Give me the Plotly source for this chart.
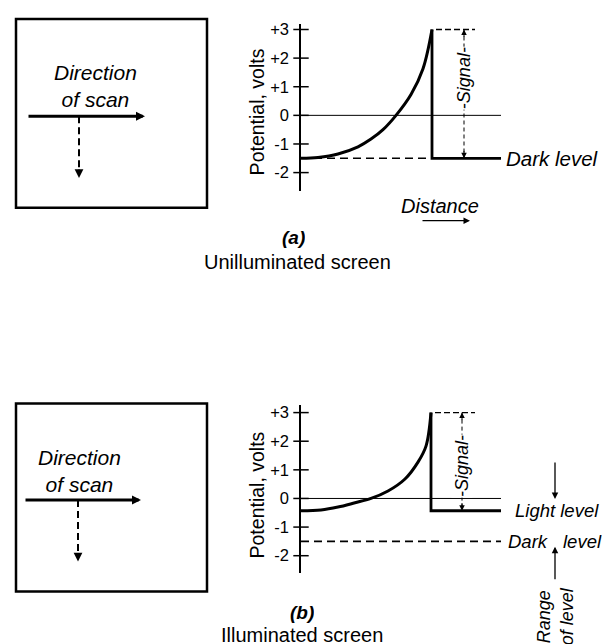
import plotly.graph_objects as go

W, H = 610, 644

# ---------------- data ----------------
tick_vals = [3, 2, 1, 0, -1, -2]
tick_text = ["+3", "+2", "+1", "0", "-1", "-2"]

# (a) unilluminated screen: potential vs distance along scan
dist_a = [0, 8.5, 18.5, 28.5, 35, 41, 47.5, 55, 61, 65.5]
pot_a = [-1.5, -1.47, -1.35, -1.1, -0.83, -0.5, 0.0, 0.73, 1.63, 3.0]

# (b) illuminated screen
dist_b = [0, 10, 18.5, 27, 35, 43.5, 52, 58.5, 62.5, 65]
pot_b = [-0.43, -0.40, -0.30, -0.15, 0.0, 0.26, 0.68, 1.27, 1.83, 3.0]

peak_v = 3.0
dark_level = -1.5
light_level = -0.43
scan_end = 100

# ---------------- layout helpers ----------------
FONT = "Liberation Sans, Arial, sans-serif"
AX_X = 293          # pixel x of potential axis
PX_PER_UNIT = 2.0   # pixels per distance unit
PX_PER_V = 28.8     # pixels per volt


def xd(p):
    return p / W


def yd(p):
    return 1 - p / H


def label(x, y, text, size=19, xref="paper", yref="paper", xanchor="center",
          yanchor="middle", angle=0, **kw):
    if xref == "paper":
        x = xd(x)
    if yref == "paper":
        y = yd(y)
    return dict(x=x, y=y, xref=xref, yref=yref, text=text, showarrow=False,
                xanchor=xanchor, yanchor=yanchor, textangle=angle, borderpad=0,
                font=dict(family=FONT, size=size, color="black"), **kw)


def arrow(tip, tail, width=1.3, size=1.0, head=2):
    """Annotation arrow in pixel coordinates (tip and tail as (x, y) pixels)."""
    return dict(x=xd(tip[0]), y=yd(tip[1]), xref="paper", yref="paper",
                ax=tail[0] - tip[0], ay=tail[1] - tip[1], text="", showarrow=True,
                arrowhead=head, arrowsize=size, arrowwidth=width, arrowcolor="black")


panels = [
    dict(zero=104, top=12, bot=180, xa="x", ya="y", dist=dist_a, pot=pot_a,
         level=dark_level, dash_end=dist_a[-1], sig_x=81.5, sig_mid=1.3),
    dict(zero=489.5, top=395, bot=565, xa="x2", ya="y2", dist=dist_b, pot=pot_b,
         level=light_level, dash_end=scan_end, sig_x=80.5, sig_mid=1.13),
]

fig = go.Figure()
annotations = []
shapes = []

for i, p in enumerate(panels):
    xa, ya = p["xa"], p["ya"]
    peak_x = p["dist"][-1]
    fig.add_trace(go.Scatter(x=[0, scan_end], y=[0, 0], mode="lines",
                             line=dict(color="black", width=1), xaxis=xa, yaxis=ya))
    fig.add_trace(go.Scatter(x=[0, p["dash_end"]], y=[dark_level, dark_level], mode="lines",
                             line=dict(color="black", width=1.6, dash="8px,5px"), xaxis=xa, yaxis=ya))
    fig.add_trace(go.Scatter(x=p["dist"], y=p["pot"], mode="lines",
                             line=dict(color="black", width=3, shape="spline", smoothing=1.0),
                             xaxis=xa, yaxis=ya))
    fig.add_trace(go.Scatter(x=[peak_x, peak_x, scan_end], y=[peak_v, p["level"], p["level"]],
                             mode="lines", line=dict(color="black", width=2.8),
                             xaxis=xa, yaxis=ya))
    fig.add_trace(go.Scatter(x=[peak_x + 2, 87], y=[peak_v, peak_v], mode="lines",
                             line=dict(color="black", width=1.3, dash="6px,3px"), xaxis=xa, yaxis=ya))
    fig.add_trace(go.Scatter(x=[p["sig_x"], p["sig_x"]], y=[peak_v, p["level"]], mode="lines",
                             line=dict(color="black", width=1, dash="4px,3px"), xaxis=xa, yaxis=ya))
    fig.add_trace(go.Scatter(x=[0] * len(tick_vals), y=tick_vals, mode="markers",
                             marker=dict(symbol="line-ew", size=11,
                                         line=dict(color="black", width=1.5)),
                             xaxis=xa, yaxis=ya, cliponaxis=False))

    for tip, off in ((peak_v, 9), (p["level"], -9)):
        annotations.append(dict(x=p["sig_x"], y=tip, xref=xa, yref=ya, ax=0, ay=off,
                                text="", showarrow=True, arrowhead=2, arrowsize=1.1,
                                arrowwidth=1, arrowcolor="black"))
    annotations.append(label(p["sig_x"], p["sig_mid"], "<i>-Signal-</i>", size=18,
                             xref=xa, yref=ya, angle=-90, bgcolor="white"))
    annotations.append(label(249, p["zero"] - 4, "Potential, volts", size=19.5, angle=-90))

for i, p in enumerate(panels):
    sfx = "" if i == 0 else "2"
    fig.layout["xaxis" + sfx] = dict(domain=[xd(AX_X), 1], range=[0, (W - AX_X) / PX_PER_UNIT],
                                     visible=False, anchor="y" + sfx, fixedrange=True)
    fig.layout["yaxis" + sfx] = dict(
        domain=[yd(p["bot"]), yd(p["top"])],
        range=[(p["zero"] - p["bot"]) / PX_PER_V, (p["zero"] - p["top"]) / PX_PER_V],
        anchor="x" + sfx, showline=True, linecolor="black", linewidth=1.5,
        showgrid=False, zeroline=False, ticks="", tickvals=tick_vals, ticktext=tick_text,
        ticklabelstandoff=7, tickfont=dict(family=FONT, size=16.5, color="black"),
        fixedrange=True)

# ---- panel (a) extras ----
annotations += [
    label(102, dark_level, "<i>Dark level</i>", xref="x", yref="y", xanchor="left", size=20.5),
    label(432, 195, "<i>Distance</i>", size=20),
    arrow((462, 210), (413, 210)),
    label(285, 227, "<b><i>(a)</i></b>", size=19, height=21),
    label(289, 251, "Unilluminated screen", size=20, height=21),
]

# ---- panel (b) extras ----
annotations += [
    label(106.5, light_level, "<i>Light level</i>", xref="x2", yref="y2", xanchor="left", size=18.5),
    label(103, dark_level, "<i>Dark</i>", xref="x2", yref="y2", xanchor="left", size=18.5),
    label(130.5, dark_level, "<i>level</i>", xref="x2", yref="y2", xanchor="left", size=18.5),
    arrow((547, 490), (547, 452)),
    arrow((547, 538), (547, 572)),
    label(547, 608, "<i>Range<br>of level</i>", angle=-90, size=18),
    label(294, 604, "<b><i>(b)</i></b>", size=19, height=21),
    label(294, 626, "Illuminated screen", size=20, height=21),
]

# ---- scan boxes ----
boxes = [
    dict(top=7, bot=197, text_x=87, text_y=74.5, arr_y=105, arr_x0=19, arr_x1=137,
         dash_x=71, dash_end=167),
    dict(top=394, bot=583, text_x=71, text_y=462, arr_y=491, arr_x0=16, arr_x1=133,
         dash_x=70, dash_end=553),
]
for b in boxes:
    shapes.append(dict(type="rect", xref="paper", yref="paper", x0=xd(8), x1=xd(199),
                       y0=yd(b["bot"]), y1=yd(b["top"]), line=dict(color="black", width=2.5)))
    annotations.append(label(b["text_x"], b["text_y"], "<i>Direction<br>of scan</i>",
                             size=21, align="center"))
    annotations.append(arrow((b["arr_x1"], b["arr_y"]), (b["arr_x0"], b["arr_y"]),
                             width=3, size=0.6))
    shapes.append(dict(type="line", xref="paper", yref="paper", x0=xd(b["dash_x"]),
                       x1=xd(b["dash_x"]), y0=yd(b["arr_y"]), y1=yd(b["dash_end"] - 8),
                       line=dict(color="black", width=2, dash="7px,4px")))
    annotations.append(arrow((b["dash_x"], b["dash_end"]), (b["dash_x"], b["dash_end"] - 10),
                             width=1.6, size=1.1))

fig.update_layout(
    width=W, height=H, margin=dict(l=0, r=0, t=0, b=0),
    paper_bgcolor="white", plot_bgcolor="rgba(0,0,0,0)",
    showlegend=False, annotations=annotations, shapes=shapes,
    font=dict(family=FONT, color="black"),
)

fig.write_html("out.html", config={"displayModeBar": False})
